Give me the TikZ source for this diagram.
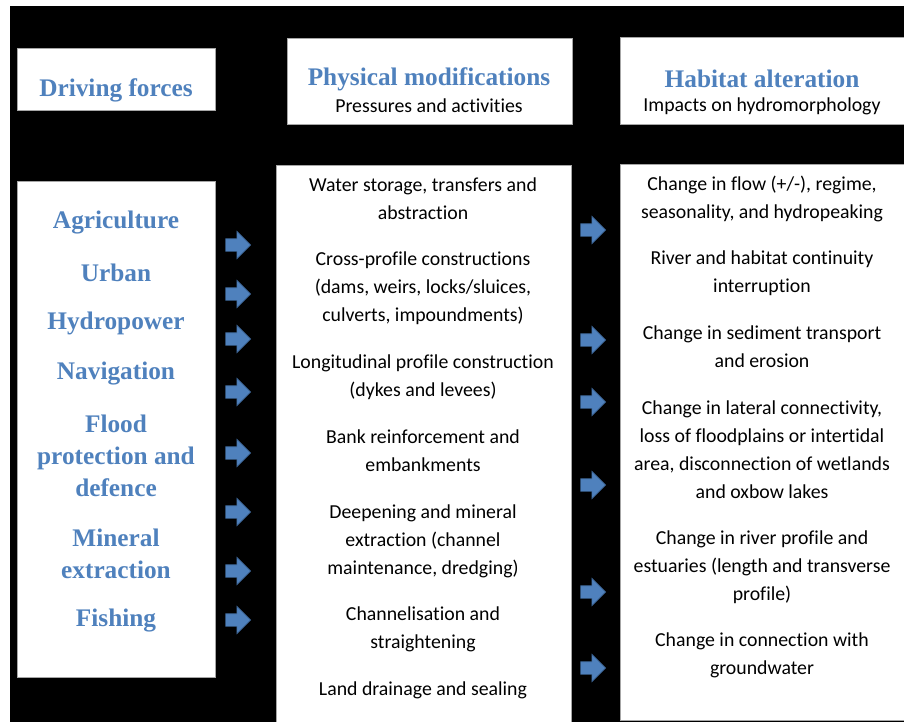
\documentclass[tikz,border=0pt]{standalone}
\usepackage{fontspec}
\setmainfont{Carlito}[Ligatures=NoCommon]
\newfontfamily\headfont{Liberation Serif}
\usetikzlibrary{shapes.arrows}
\definecolor{hdblue}{HTML}{4F81BD}
\definecolor{arrowedge}{HTML}{385D8A}
\definecolor{boxedge}{HTML}{A6A6A6}

\begin{document}
\begin{tikzpicture}[
      x=1pt, y=-1pt,
      every node/.style={font=\fontsize{19.8}{28}\selectfont, align=center, inner sep=0pt},
      panel/.style={draw=boxedge, fill=white, line width=0.8pt, anchor=north west},
      bluehead/.style={font=\headfont\bfseries\fontsize{25.3}{32}\selectfont, text=hdblue},
      blockarrow/.style={shape=single arrow, fill=hdblue, draw=arrowedge, line width=0.6pt,
                         inner sep=6pt, single arrow head extend=7.5pt, minimum height=25pt},
    ]
    \useasboundingbox (0,0) rectangle (904,722);
    \fill[white] (0,0) rectangle (904,722);
    \fill[black] (10,6) rectangle (904,722);

    % header boxes
    \node[panel, minimum width=198, minimum height=62] (dfhead) at (17,48) {};
    \node[panel, minimum width=285, minimum height=86] (pmhead) at (287,38) {};
    \node[panel, minimum width=290, minimum height=87] (hahead) at (620,37) {};

    % column boxes
    \node[panel, minimum width=198, minimum height=496] (dfbox) at (17,181) {};
    \node[panel, minimum width=295, minimum height=565] (pmbox) at (276,165) {};
    \node[panel, minimum width=295, minimum height=556] (habox) at (620,164) {};

    \node[bluehead] (dftitle) at (116,90) {Driving forces};
    \node[bluehead] (pmtitle) at (429,79) {Physical modifications};
    \node (pmsub) at (429,106) {Pressures and activities};
    \node[bluehead] (hatitle) at (762,79) {Habitat alteration};
    \node (hasub) at (762,106) {Impacts on hydromorphology};

    % driving forces
    \node[bluehead] (df1) at (116,223) {Agriculture};
    \node[bluehead] (df2) at (116,273) {Urban};
    \node[bluehead] (df3) at (116,323) {Hydropower};
    \node[bluehead] (df4) at (116,374) {Navigation};
    \node[bluehead] (df5) at (116,456) {Flood\\protection and\\defence};
    \node[bluehead] (df6) at (116,554) {Mineral\\extraction};
    \node[bluehead] (df7) at (116,621) {Fishing};

    % pressures and activities
    \node (pm1) at (423,199) {Water storage, transfers and\\abstraction};
    \node (pm2) at (423,288) {Cross-profile constructions\\(dams, weirs, locks/sluices,\\culverts, impoundments)};
    \node (pm3) at (423,377) {Longitudinal profile construction\\(dykes and levees)};
    \node (pm4) at (423,451) {Bank reinforcement and\\embankments};
    \node (pm5) at (423,541) {Deepening and mineral\\extraction (channel\\maintenance, dredging)};
    \node (pm6) at (423,629) {Channelisation and\\straightening};
    \node (pm7) at (423,690) {Land drainage and sealing};

    % impacts
    \node (ha1) at (762,199) {Change in flow (+/-), regime,\\seasonality, and hydropeaking};
    \node (ha2) at (762,273) {River and habitat continuity\\interruption};
    \node (ha3) at (762,347) {Change in sediment transport\\and erosion};
    \node (ha4) at (762,450) {Change in lateral connectivity,\\loss of floodplains or intertidal\\area, disconnection of wetlands\\and oxbow lakes};
    \node (ha5) at (762,567) {Change in river profile and\\estuaries (length and transverse\\profile)};
    \node (ha6) at (762,655) {Change in connection with\\groundwater};

    % block arrows
    \foreach \y [count=\i] in {245,294,339,392,453,512,571,620}
      \node[blockarrow] (larr\i) at (235,\y) {};
    \foreach \y [count=\i] in {230,340,402,485,592,668}
      \node[blockarrow] (rarr\i) at (590,\y) {};
  \end{tikzpicture}
\end{document}
